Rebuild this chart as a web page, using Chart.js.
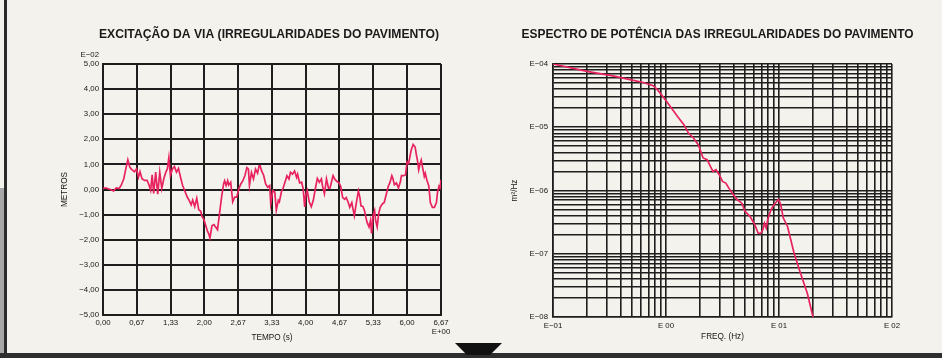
<!DOCTYPE html>
<html>
<head>
<meta charset="utf-8">
<script src="https://cdn.jsdelivr.net/npm/chart.js@4.4.1/dist/chart.umd.min.js"></script>
<style>
  html, body { margin: 0; padding: 0; }
  body { width: 942px; height: 358px; background: #f4f2ec; position: relative; overflow: hidden; }
  .deco { position: absolute; }
  #c1 { position: absolute; left: 0; top: 0; }
  #c2 { position: absolute; left: 471px; top: 0; }
</style>
</head>
<body>
<div class="deco" style="left:0;top:188px;width:4px;height:166px;background:#a8a8a8"></div>
<div class="deco" style="left:4px;top:0;width:3px;height:354px;background:#2b2b2b"></div>
<div class="deco" style="left:0;top:353px;width:942px;height:5px;background:#2e2e2e"></div>
<canvas id="c1" width="471" height="352"></canvas>
<canvas id="c2" width="471" height="352"></canvas>
<svg class="deco" style="left:0;top:0" width="942" height="358"><polygon points="455,343 502,343 490,355 467,355" fill="#111"/></svg>
<script>
// --- excitação da via (E-02 m) ---
const tempo = [0, 0.05, 0.13, 0.21, 0.26, 0.32, 0.36, 0.41, 0.45, 0.49, 0.53, 0.57, 0.62, 0.66, 0.70, 0.73, 0.77, 0.82, 0.87, 0.91,
  0.94, 0.97, 1.00, 1.04, 1.08, 1.12, 1.16, 1.20, 1.24, 1.27, 1.30, 1.33, 1.37, 1.41, 1.45, 1.49, 1.53, 1.57, 1.62, 1.66,
  1.70, 1.74, 1.77, 1.81, 1.85, 1.89, 1.93, 1.95, 1.99, 2.03, 2.06, 2.09, 2.11, 2.15, 2.19, 2.26, 2.30, 2.34, 2.38, 2.40,
  2.43, 2.46, 2.48, 2.52, 2.56, 2.60, 2.64, 2.68, 2.72, 2.76, 2.80, 2.84, 2.87, 2.89, 2.93, 2.97, 3.01, 3.05, 3.08, 3.10,
  3.13, 3.17, 3.21, 3.25, 3.29, 3.31, 3.35, 3.39, 3.42, 3.46, 3.48, 3.52, 3.56, 3.60, 3.63, 3.67, 3.70, 3.74, 3.78, 3.82,
  3.84, 3.88, 3.92, 3.95, 3.98, 4.00, 4.03, 4.07, 4.11, 4.15, 4.19, 4.23, 4.27, 4.31, 4.33, 4.37, 4.41, 4.45, 4.48, 4.52,
  4.54, 4.58, 4.62, 4.66, 4.69, 4.73, 4.77, 4.80, 4.84, 4.87, 4.91, 4.94, 4.96, 5.00, 5.04, 5.07, 5.09, 5.13, 5.16, 5.18,
  5.21, 5.25, 5.28, 5.30, 5.33, 5.36, 5.38, 5.41, 5.44, 5.47, 5.51, 5.55, 5.59, 5.63, 5.66, 5.70, 5.72, 5.75, 5.79, 5.83,
  5.87, 5.89, 5.93, 5.97, 6.00, 6.03, 6.05, 6.08, 6.12, 6.16, 6.18, 6.21, 6.23, 6.26, 6.28, 6.31, 6.34, 6.36, 6.39, 6.43,
  6.46, 6.50, 6.54, 6.58, 6.60, 6.63, 6.65, 6.67];
const excitacao = [0.04, 0.06, 0.01, -0.06, 0.06, 0.04, 0.17, 0.43, 0.82, 1.18, 0.88, 0.79, 0.71, 0.82, 0.49, 0.71, 0.43, 0.36, 0.36, 0.17,
  -0.03, 0.58, -0.16, 0.69, -0.19, 0.69, 0.04, 0.43, 0.69, 0.82, 1.27, 0.56, 0.82, 0.92, 0.69, 0.84, 0.49, 0.17, -0.09, -0.29,
  -0.43, -0.61, -0.42, -0.68, -0.35, -0.81, -0.87, -1.06, -1.19, -1.45, -1.65, -1.78, -1.93, -1.45, -1.40, -1.60, -0.95, -0.30, 0.22, 0.35,
  0.16, 0.35, 0.18, 0.29, -0.49, -0.30, -0.30, 0.03, 0.22, 0.35, 0.55, 0.87, 0.81, 0.16, 0.68, 0.42, 0.81, 0.65, 0.94, 0.94,
  0.74, 0.57, 0.22, 0.09, 0.16, -0.56, -0.04, -0.10, -0.82, -0.43, -0.49, -0.10, 0.09, 0.35, 0.55, 0.42, 0.68, 0.61, 0.74, 0.48,
  0.61, 0.26, 0.29, 0.03, -0.69, -0.23, -0.04, -0.49, -0.69, -0.43, 0.03, 0.44, 0.29, 0.42, 0.16, -0.17, 0.42, 0.05, 0.06, 0.39,
  0.55, 0.39, 0.32, 0.26, 0.13, -0.32, -0.39, -0.32, -0.52, -0.71, -0.52, -0.84, -1.04, -0.52, -0.06, -0.32, -0.65, -0.68, -0.84, -1.04,
  -1.30, -1.49, -1.23, -1.75, -1.04, -0.84, -1.23, -1.49, -0.97, -0.71, -0.58, -0.52, -0.19, 0.13, 0.26, 0.55, 0.45, 0.19, 0.26, 0.06,
  0.32, 0.55, 0.55, 0.58, 1.10, 1.04, 1.23, 1.56, 1.79, 1.69, 1.43, 1.10, 0.78, 1.04, 1.17, 0.84, 0.52, 0.65, 0.39, 0.13,
  -0.52, -0.71, -0.71, -0.52, -0.13, 0.13, 0.06, 0.39];
const tempoTicks = [0, 0.667, 1.333, 2.0, 2.667, 3.333, 4.0, 4.667, 5.333, 6.0, 6.67];
const tempoLabels = ['0,00', '0,67', '1,33', '2,00', '2,67', '3,33', '4,00', '4,67', '5,33', '6,00', ['6,67', 'E+00']];
const metrosTicks = [-5, -4, -3, -2, -1, 0, 1, 2, 3, 4, 5];
const metrosLabels = ['\u22125,00', '\u22124,00', '\u22123,00', '\u22122,00', '\u22121,00', '0,00', '1,00', '2,00', '3,00', '4,00', '5,00'];

// --- espectro de potência (m²/Hz) ---
const freq = [0.1, 0.2, 0.33, 0.48, 0.63, 0.77, 0.84, 0.96, 1.10, 1.26, 1.44, 1.58, 1.75, 1.93, 2.13, 2.31, 2.51, 2.6, 2.77, 2.96,
  3.16, 3.38, 3.6, 3.85, 4.25, 4.69, 5.0, 5.53, 6.1, 6.53, 6.87, 7.2, 7.44, 7.7, 7.95, 8.5, 9.06, 9.9, 10.35, 10.9,
  11.9, 13.6, 15.5, 17.8, 20.0];
const psd = [1.0e-4, 7.64e-5, 6.53e-5, 5.65e-5, 5.1e-5, 4.54e-5, 3.93e-5, 2.9e-5, 2.09e-5, 1.49e-5, 1.1e-5, 8.1e-6, 6.76e-6, 5.3e-6, 3.27e-6, 3.07e-6, 2.27e-6, 2.0e-6, 2.13e-6, 1.78e-6,
  1.39e-6, 1.31e-6, 1.09e-6, 9.1e-7, 7.2e-7, 6.3e-7, 4.7e-7, 3.9e-7, 2.88e-7, 2.13e-7, 2.08e-7, 2.4e-7, 3.05e-7, 2.56e-7, 3.47e-7, 5.0e-7, 6.0e-7, 7.2e-7, 6.0e-7, 3.7e-7,
  2.7e-7, 1.02e-7, 4.9e-8, 2.38e-8, 1.0e-8];
const freqDecadas = [-1, 0, 1, 2];
const freqLabels = ['E\u221201', 'E 00', 'E 01', 'E 02'];
const psdDecadas = [-8, -7, -6, -5, -4];
const psdLabels = ['E\u221208', 'E\u221207', 'E\u221206', 'E\u221205', 'E\u221204'];

const rosa = '#e8235f';
const tinta = '#1e1e1e';
const texto = '#161616';
const fam = "'Liberation Sans', Arial, sans-serif";
const tickFont = { family: fam, size: 7.8 };
const titleFont = { family: fam, size: 8.2 };

// ticks 1..9 x 10^n for each decade, label only on the decade
function logTicks(decadas, labels) {
  const out = [];
  decadas.forEach((d, i) => {
    if (i === decadas.length - 1) {
      out.push({ value: Math.pow(10, d), txt: labels[i] });
      return;
    }
    for (let k = 1; k <= 9; k++) {
      out.push({ value: k * Math.pow(10, d), txt: k === 1 ? labels[i] : '' });
    }
  });
  return out;
}

const cabecalho = {
  id: 'cabecalho',
  afterDraw(chart, args, opts) {
    const ctx = chart.ctx;
    const a = chart.chartArea;
    ctx.save();
    ctx.fillStyle = '#1a1a1a';
    ctx.font = 'bold 13px ' + fam;
    ctx.textAlign = 'center';
    ctx.textBaseline = 'middle';
    ctx.fillText(opts.text, (a.left + a.right) / 2 + opts.shift, 34, opts.width);
    if (opts.expoente) {
      ctx.font = '7.8px ' + fam;
      ctx.fillStyle = texto;
      ctx.textAlign = 'right';
      ctx.fillText(opts.expoente, a.left - 4, a.top - 9);
    }
    ctx.restore();
  }
};

function grade(w) {
  return { color: tinta, lineWidth: w, drawTicks: false };
}

new Chart(document.getElementById('c1'), {
  type: 'line',
  data: {
    datasets: [{
      data: tempo.map((t, i) => ({ x: t, y: excitacao[i] })),
      borderColor: rosa,
      borderWidth: 1.7,
      pointRadius: 0,
      tension: 0
    }]
  },
  options: {
    responsive: false,
    animation: false,
    layout: { padding: { left: 56, right: 30, top: 64, bottom: 5.5 } },
    plugins: {
      legend: { display: false },
      tooltip: { enabled: false },
      cabecalho: { text: 'EXCITAÇÃO DA VIA (IRREGULARIDADES DO PAVIMENTO)', width: 340, shift: -3, expoente: 'E\u221202' }
    },
    scales: {
      x: {
        type: 'linear', min: 0, max: 6.67,
        afterBuildTicks: s => { s.ticks = tempoTicks.map(v => ({ value: v })); },
        afterFit: s => { s.height = 31.5; },
        ticks: { autoSkip: false, maxRotation: 0, padding: 3, font: tickFont, color: texto,
          callback: (v, i) => tempoLabels[i] },
        grid: grade(2),
        border: { color: tinta, width: 2 },
        title: { display: true, text: 'TEMPO (s)', font: titleFont, color: texto, padding: { top: 0, bottom: 4 } }
      },
      y: {
        min: -5, max: 5,
        afterBuildTicks: s => { s.ticks = metrosTicks.map(v => ({ value: v })); },
        afterFit: s => { s.width = 47; },
        ticks: { autoSkip: false, padding: 4, font: tickFont, color: texto,
          callback: (v, i) => metrosLabels[i] },
        grid: grade(2),
        border: { color: tinta, width: 2 },
        title: { display: true, text: 'METROS', font: titleFont, color: texto, padding: { top: 4, bottom: 0 } }
      }
    }
  },
  plugins: [cabecalho]
});

new Chart(document.getElementById('c2'), {
  type: 'line',
  data: {
    datasets: [{
      data: freq.map((f, i) => ({ x: f, y: psd[i] })),
      borderColor: rosa,
      borderWidth: 1.7,
      pointRadius: 0,
      tension: 0
    }]
  },
  options: {
    responsive: false,
    animation: false,
    layout: { padding: { left: 35, right: 50, top: 64, bottom: 6.5 } },
    plugins: {
      legend: { display: false },
      tooltip: { enabled: false },
      cabecalho: { text: 'ESPECTRO DE POTÊNCIA DAS IRREGULARIDADES DO PAVIMENTO', width: 392, shift: -5 }
    },
    scales: {
      x: {
        type: 'logarithmic', min: 0.1, max: 100,
        afterBuildTicks: s => { s.ticks = logTicks(freqDecadas, freqLabels); },
        afterFit: s => { s.height = 28.5; },
        ticks: { autoSkip: false, maxRotation: 0, padding: 4, font: tickFont, color: texto,
          callback: (v, i, t) => t[i].txt },
        grid: grade(1.6),
        border: { color: tinta, width: 1.6 },
        title: { display: true, text: 'FREQ. (Hz)', font: titleFont, color: texto, padding: { top: 0, bottom: 4 } }
      },
      y: {
        type: 'logarithmic', min: 1e-8, max: 1e-4,
        afterBuildTicks: s => { s.ticks = logTicks(psdDecadas, psdLabels); },
        afterFit: s => { s.width = 47; },
        ticks: { autoSkip: false, padding: 5, font: tickFont, color: texto,
          callback: (v, i, t) => t[i].txt },
        grid: grade(1.6),
        border: { color: tinta, width: 1.6 },
        title: { display: true, text: 'm²/Hz', font: titleFont, color: texto, padding: { top: 4, bottom: 0 } }
      }
    }
  },
  plugins: [cabecalho]
});
</script>
</body>
</html>
